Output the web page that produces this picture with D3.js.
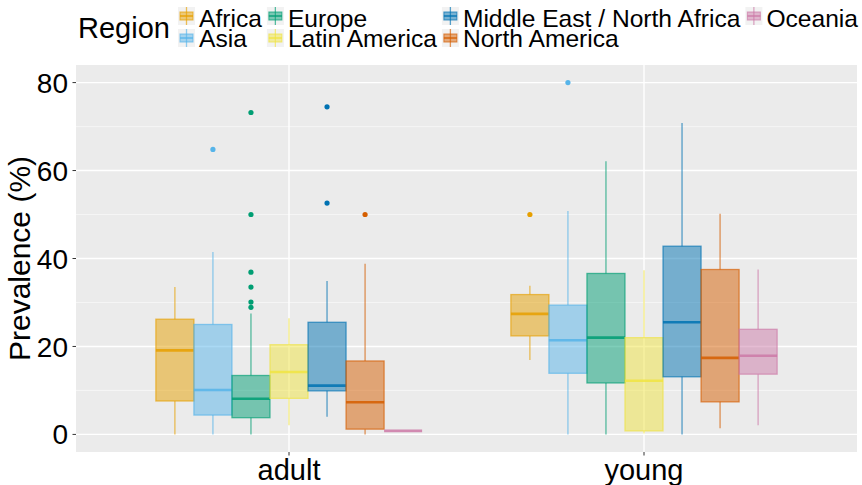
<!DOCTYPE html>
<html>
<head>
<meta charset="utf-8">
<script src="https://cdn.jsdelivr.net/npm/d3@7"></script>
<style>
  html, body { margin: 0; padding: 0; background: #fff; }
  svg { display: block; font-family: "Liberation Sans", Arial, Helvetica, sans-serif; }
</style>
</head>
<body>
<svg id="chart" width="862" height="485"></svg>
<script>
// Groups on the x axis and the regions dodged within each group
const ages = ["adult", "young"];
const regions = ["Africa", "Asia", "Europe", "Latin America", "Middle East / North Africa", "North America", "Oceania"];
const regionColors = ["#E69F00", "#56B4E9", "#009E73", "#F0E442", "#0072B2", "#D55E00", "#CC79A7"];
const yTicks = [0, 20, 40, 60, 80];

// Box statistics per region (prevalence, %)
const adultLow    = [0.0, 0.0, 0.0, 2.1, 4.0, 0.0, 0.8];
const adultQ1     = [7.6, 4.4, 3.8, 8.2, 9.9, 1.2, 0.8];
const adultMedian = [19.1, 10.1, 8.1, 14.2, 11.1, 7.3, 0.8];
const adultQ3     = [26.2, 25.0, 13.4, 20.4, 25.5, 16.7, 0.8];
const adultHigh   = [33.5, 41.5, 27.5, 26.4, 34.9, 38.8, 0.8];
const adultOutliers = [[], [64.8], [73.2, 50.0, 36.9, 33.5, 30.1, 28.9], [], [74.5, 52.6], [50.0], []];

const youngLow    = [16.9, 0.0, 0.0, 0.2, 0.0, 1.4, 2.1];
const youngQ1     = [22.4, 13.9, 11.7, 0.8, 13.1, 7.4, 13.7];
const youngMedian = [27.4, 21.4, 22.0, 12.2, 25.5, 17.4, 17.9];
const youngQ3     = [31.8, 29.4, 36.6, 22.0, 42.8, 37.5, 23.9];
const youngHigh   = [33.8, 50.8, 62.1, 37.3, 70.8, 50.2, 37.5];
const youngOutliers = [[50.0], [80.0], [], [], [], [], []];

const stats = {
  adult: { low: adultLow, q1: adultQ1, med: adultMedian, q3: adultQ3, high: adultHigh, out: adultOutliers },
  young: { low: youngLow, q1: youngQ1, med: youngMedian, q3: youngQ3, high: youngHigh, out: youngOutliers }
};

const svg = d3.select("#chart");
const panel = { left: 76, right: 857, top: 65, bottom: 452 };

const x = d3.scaleBand().domain(ages).range([panel.left, panel.right]).paddingInner(0).paddingOuter(0.1);
const dodgeW = x.step() * 0.75;
const xInner = d3.scaleBand().domain(regions).range([-dodgeW / 2, dodgeW / 2]);
const y = d3.scaleLinear().domain([-4, 84]).range([panel.bottom, panel.top]);
const color = d3.scaleOrdinal().domain(regions).range(regionColors);

// Panel background and grid
svg.append("rect")
  .attr("x", panel.left).attr("y", panel.top)
  .attr("width", panel.right - panel.left).attr("height", panel.bottom - panel.top)
  .attr("fill", "#EBEBEB");

const minorTicks = d3.range(10, 80, 20);
svg.append("g").selectAll("line").data(minorTicks).join("line")
  .attr("x1", panel.left).attr("x2", panel.right)
  .attr("y1", d => y(d)).attr("y2", d => y(d))
  .attr("stroke", "#F7F7F7").attr("stroke-width", 0.8);
svg.append("g").selectAll("line").data(yTicks).join("line")
  .attr("x1", panel.left).attr("x2", panel.right)
  .attr("y1", d => y(d)).attr("y2", d => y(d))
  .attr("stroke", "#FFFFFF").attr("stroke-width", 1.4);
svg.append("g").selectAll("line").data(ages).join("line")
  .attr("x1", d => x(d) + x.bandwidth() / 2).attr("x2", d => x(d) + x.bandwidth() / 2)
  .attr("y1", panel.top).attr("y2", panel.bottom)
  .attr("stroke", "#FFFFFF").attr("stroke-width", 1.4);

// Boxplots
const boxW = xInner.bandwidth();
ages.forEach(age => {
  const s = stats[age];
  const cx0 = x(age) + x.bandwidth() / 2;
  regions.forEach((r, i) => {
    const c = color(r);
    const left = cx0 + xInner(r);
    const cx = left + boxW / 2;
    const g = svg.append("g");
    // whiskers
    g.append("line").attr("x1", cx).attr("x2", cx)
      .attr("y1", y(s.high[i])).attr("y2", y(s.q3[i]))
      .attr("stroke", c).attr("stroke-opacity", 0.65).attr("stroke-width", 1.3);
    g.append("line").attr("x1", cx).attr("x2", cx)
      .attr("y1", y(s.q1[i])).attr("y2", y(s.low[i]))
      .attr("stroke", c).attr("stroke-opacity", 0.65).attr("stroke-width", 1.3);
    // box
    g.append("rect")
      .attr("x", left).attr("width", boxW)
      .attr("y", y(s.q3[i])).attr("height", y(s.q1[i]) - y(s.q3[i]))
      .attr("fill", c).attr("fill-opacity", 0.5)
      .attr("stroke", c).attr("stroke-opacity", 0.65).attr("stroke-width", 1.3);
    // median
    g.append("line").attr("x1", left).attr("x2", left + boxW)
      .attr("y1", y(s.med[i])).attr("y2", y(s.med[i]))
      .attr("stroke", c).attr("stroke-opacity", 0.85).attr("stroke-width", 2.6);
    // outliers
    g.selectAll("circle").data(s.out[i]).join("circle")
      .attr("cx", cx).attr("cy", d => y(d)).attr("r", 2.6)
      .attr("fill", c);
  });
});

// Axes
const yAxis = svg.append("g");
yAxis.selectAll("line").data(yTicks).join("line")
  .attr("x1", panel.left - 3.5).attr("x2", panel.left)
  .attr("y1", d => y(d)).attr("y2", d => y(d))
  .attr("stroke", "#333333").attr("stroke-width", 1);
yAxis.selectAll("text").data(yTicks).join("text")
  .attr("x", panel.left - 8).attr("y", d => y(d))
  .attr("dy", "0.36em").attr("text-anchor", "end")
  .attr("font-size", 28).attr("fill", "#000")
  .text(d => d);

const xAxis = svg.append("g");
xAxis.selectAll("line").data(ages).join("line")
  .attr("x1", d => x(d) + x.bandwidth() / 2).attr("x2", d => x(d) + x.bandwidth() / 2)
  .attr("y1", panel.bottom).attr("y2", panel.bottom + 3.5)
  .attr("stroke", "#333333").attr("stroke-width", 1);
xAxis.selectAll("text").data(ages).join("text")
  .attr("x", d => x(d) + x.bandwidth() / 2).attr("y", 480)
  .attr("text-anchor", "middle")
  .attr("font-size", 29).attr("fill", "#000")
  .text(d => d);

svg.append("text")
  .attr("transform", `translate(30, ${(panel.top + panel.bottom) / 2}) rotate(-90)`)
  .attr("text-anchor", "middle")
  .attr("font-size", 30).attr("fill", "#000")
  .text("Prevalence (%)");

// Legend: two rows, filled column by column
const legend = svg.append("g");
legend.append("text").attr("x", 78).attr("y", 38)
  .attr("font-size", 29).attr("fill", "#000").text("Region");

const keyW = 17, keyH = 18;
const rowKeyY = [7, 29];
const rowTextY = [26.5, 46.5];
let colX = 178;
const nCols = Math.ceil(regions.length / 2);
for (let col = 0; col < nCols; col++) {
  let maxW = 0;
  for (let row = 0; row < 2; row++) {
    const i = col * 2 + row;
    if (i >= regions.length) continue;
    const c = regionColors[i];
    const kg = legend.append("g").attr("transform", `translate(${colX}, ${rowKeyY[row]})`);
    kg.append("rect").attr("width", keyW).attr("height", keyH).attr("fill", "#F2F2F2");
    kg.append("line").attr("x1", keyW / 2).attr("x2", keyW / 2).attr("y1", 0).attr("y2", keyH)
      .attr("stroke", c).attr("stroke-opacity", 0.65).attr("stroke-width", 1.3);
    kg.append("rect").attr("x", 2).attr("y", 5).attr("width", keyW - 4).attr("height", keyH - 10)
      .attr("fill", c).attr("fill-opacity", 0.5)
      .attr("stroke", c).attr("stroke-opacity", 0.65).attr("stroke-width", 1.1);
    kg.append("line").attr("x1", 2).attr("x2", keyW - 2).attr("y1", keyH / 2).attr("y2", keyH / 2)
      .attr("stroke", c).attr("stroke-opacity", 0.85).attr("stroke-width", 1.6);
    const t = legend.append("text").attr("x", colX + keyW + 4).attr("y", rowTextY[row])
      .attr("font-size", 24.6).attr("fill", "#000").text(regions[i]);
    maxW = Math.max(maxW, t.node().getComputedTextLength());
  }
  colX += keyW + 4 + maxW + 5;
}
</script>
</body>
</html>
